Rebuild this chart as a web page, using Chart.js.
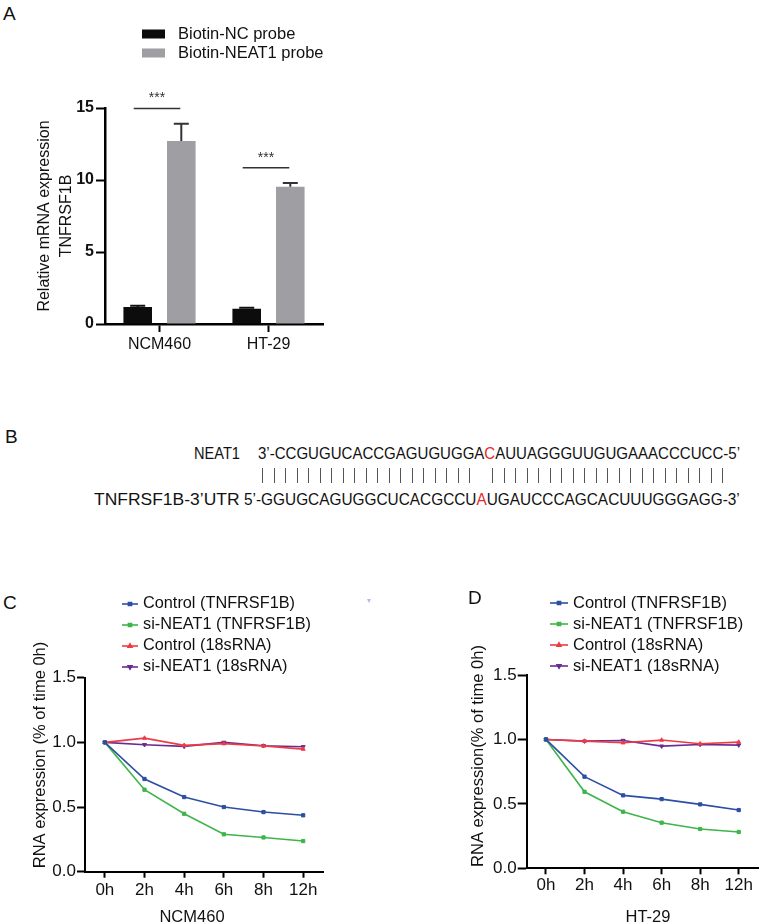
<!DOCTYPE html>
<html>
<head>
<meta charset="utf-8">
<script src="https://cdn.jsdelivr.net/npm/chart.js@4.4.1/dist/chart.umd.min.js"></script>
<style>
  html, body { margin: 0; padding: 0; background: #fff; overflow: hidden; }
  body { width: 763px; height: 923px; position: relative; font-family: "Liberation Sans", Arial, sans-serif; color: #111; }
  canvas { position: absolute; }
  .txt { position: absolute; white-space: nowrap; line-height: 1; transform: translateY(-50%); }
  .letter { font-size: 19px; }
  .seq { font-size: 16.5px; color: #111; }
  .bar { position: absolute; width: 1px; height: 15px; background: #555; }
</style>
</head>
<body>

<div class="txt letter" style="left:3px;top:13px">A</div>
<canvas id="chartA" width="360" height="380" style="left:0;top:0"></canvas>

<div class="txt letter" style="left:5px;top:436px">B</div>
<div class="txt seq" id="lblNeat" style="right:523px;top:453px">NEAT1</div>
<div class="txt seq" id="seqNeat" style="left:258px;top:453px"></div>
<div id="pairRow"></div>
<div class="txt seq" id="lblUtr" style="right:523px;top:499px">TNFRSF1B-3’UTR</div>
<div class="txt seq" id="seqUtr" style="left:244px;top:499px"></div>

<div class="txt letter" style="left:3px;top:602px">C</div>
<canvas id="chartC" width="380" height="380" style="left:0;top:560px"></canvas>
<div class="txt" style="left:367px;top:601px;font-size:8px;color:#c8b2e4">▾</div>

<div class="txt letter" style="left:468px;top:597px">D</div>
<canvas id="chartD" width="383" height="380" style="left:380px;top:560px"></canvas>

<script>
Chart.defaults.font.family = '"Liberation Sans", Arial, sans-serif';
Chart.defaults.color = '#111';

// panel A
const cellLines = ['NCM460', 'HT-29'];
const probeNames = ['Biotin-NC probe', 'Biotin-NEAT1 probe'];
const ncProbe = [1.18, 1.06];
const ncErr = [0.09, 0.07];
const neatProbe = [12.7, 9.53];
const neatErr = [1.2, 0.27];
const sigLevel = [14.96, 10.85];
const sigText = ['***', '***'];
const yTicksA = [0, 5, 10, 15];

// panel B
const neatSeq = 'CCGUGUCACCGAGUGUGGACAUUAGGGUUGUGAAACCCUCC';
const utrSeq = 'GGUGCAGUGGCUCACGCCUAUGAUCCCAGCACUUUGGGAGG';

// panels C, D
const timePoints = ['0h', '2h', '4h', '6h', '8h', '12h'];
const seriesNames = ['Control (TNFRSF1B)', 'si-NEAT1 (TNFRSF1B)', 'Control (18sRNA)', 'si-NEAT1 (18sRNA)'];
const ncmControlTnf = [1.0, 0.717, 0.577, 0.500, 0.461, 0.436];
const ncmSiTnf = [1.0, 0.634, 0.448, 0.289, 0.265, 0.237];
const ncmControl18s = [1.0, 1.033, 0.977, 0.990, 0.972, 0.948];
const ncmSi18s = [1.0, 0.982, 0.969, 1.0, 0.974, 0.966];
const htControlTnf = [1.0, 0.711, 0.566, 0.537, 0.496, 0.452];
const htSiTnf = [1.0, 0.594, 0.439, 0.354, 0.305, 0.282];
const htControl18s = [1.0, 0.987, 0.974, 0.995, 0.966, 0.979];
const htSi18s = [1.0, 0.987, 0.992, 0.948, 0.961, 0.956];
const yTicksRna = [0, 0.5, 1.0, 1.5];

const seriesColors = ['#2c4fa3', '#3db54a', '#ee3b43', '#6a2c91'];
const seriesMarkers = ['rect', 'rect', 'triangle', 'triangle'];
const seriesRotation = [0, 0, 0, 180];

// ---------- panel B text ----------
function fitWidth(el, w, origin) {
  el.style.transformOrigin = origin + ' center';
  el.style.transform = 'translateY(-50%) scaleX(' + (w / el.offsetWidth) + ')';
}
document.getElementById('seqNeat').innerHTML =
  '3’-' + neatSeq.slice(0, 19) + '<span style="color:#e8262b">' + neatSeq[19] + '</span>' + neatSeq.slice(20) + '-5’';
document.getElementById('seqUtr').innerHTML =
  '5’-' + utrSeq.slice(0, 19) + '<span style="color:#e8262b">' + utrSeq[19] + '</span>' + utrSeq.slice(20) + '-3’';
fitWidth(document.getElementById('seqNeat'), 482, 'left');
fitWidth(document.getElementById('seqUtr'), 496, 'left');
fitWidth(document.getElementById('lblNeat'), 46, 'right');
fitWidth(document.getElementById('lblUtr'), 146, 'right');

const pairsOk = ['CG', 'GC', 'AU', 'UA', 'GU', 'UG'];
const pairRow = document.getElementById('pairRow');
for (let i = 0; i < neatSeq.length; i++) {
  if (!pairsOk.includes(neatSeq[i] + utrSeq[i])) continue;
  const b = document.createElement('div');
  b.className = 'bar';
  b.style.left = (262 + i * 460 / (neatSeq.length - 1)) + 'px';
  b.style.top = '468px';
  pairRow.appendChild(b);
}

// ---------- plugins ----------
const errorBars = {
  id: 'errorBars',
  afterDatasetsDraw(chart) {
    const ctx = chart.ctx, y = chart.scales.y;
    chart.data.datasets.forEach((ds, di) => {
      const meta = chart.getDatasetMeta(di);
      meta.data.forEach((bar, i) => {
        const top = y.getPixelForValue(ds.data[i] + ds.err[i]);
        ctx.save();
        ctx.strokeStyle = ds.errColor;
        ctx.lineWidth = 2;
        ctx.beginPath();
        ctx.moveTo(bar.x, bar.y);
        ctx.lineTo(bar.x, top);
        ctx.moveTo(bar.x - 7.5, top);
        ctx.lineTo(bar.x + 7.5, top);
        ctx.stroke();
        ctx.restore();
      });
    });
  }
};

const sigMarks = {
  id: 'sigMarks',
  afterDatasetsDraw(chart) {
    const ctx = chart.ctx, y = chart.scales.y;
    const m0 = chart.getDatasetMeta(0), m1 = chart.getDatasetMeta(1);
    sigLevel.forEach((v, i) => {
      const py = y.getPixelForValue(v);
      const x0 = m0.data[i].x - 4, x1 = m1.data[i].x - 1;
      ctx.save();
      ctx.strokeStyle = '#333';
      ctx.lineWidth = 1.5;
      ctx.beginPath();
      ctx.moveTo(x0, py);
      ctx.lineTo(x1, py);
      ctx.stroke();
      ctx.fillStyle = '#333';
      ctx.font = '14px "Liberation Sans", Arial, sans-serif';
      ctx.textAlign = 'center';
      ctx.textBaseline = 'middle';
      ctx.fillText(sigText[i], (x0 + x1) / 2, py - 10);
      ctx.restore();
    });
  }
};

const boxLegend = {
  id: 'boxLegend',
  afterDraw(chart, args, o) {
    const ctx = chart.ctx;
    chart.data.datasets.forEach((ds, i) => {
      const cy = o.y + i * o.gap;
      ctx.save();
      ctx.fillStyle = ds.backgroundColor;
      ctx.fillRect(o.x, cy - 4.5, 23, 9);
      ctx.fillStyle = '#111';
      ctx.font = o.font;
      ctx.textBaseline = 'middle';
      ctx.fillText(ds.label, o.textX, cy);
      ctx.restore();
    });
  }
};

const lineLegend = {
  id: 'lineLegend',
  afterDraw(chart, args, o) {
    const ctx = chart.ctx;
    chart.data.datasets.forEach((ds, i) => {
      const cy = o.y + i * o.gap;
      ctx.save();
      ctx.strokeStyle = ds.borderColor;
      ctx.fillStyle = ds.borderColor;
      ctx.lineWidth = 1.6;
      ctx.beginPath();
      ctx.moveTo(o.x0, cy);
      ctx.lineTo(o.x1, cy);
      ctx.stroke();
      Chart.helpers.drawPoint(ctx, { pointStyle: ds.pointStyle, rotation: ds.pointRotation, radius: 2.2, borderWidth: 1 }, (o.x0 + o.x1) / 2, cy);
      ctx.fillStyle = '#111';
      ctx.font = o.font;
      ctx.textBaseline = 'middle';
      ctx.fillText(ds.label, o.textX, cy);
      ctx.restore();
    });
  }
};

const captions = {
  id: 'captions',
  afterDraw(chart, args, o) {
    const ctx = chart.ctx;
    o.items.forEach(it => {
      ctx.save();
      ctx.translate(it.x, it.y);
      if (it.rotate) ctx.rotate(-Math.PI / 2);
      ctx.fillStyle = '#111';
      ctx.font = o.font;
      ctx.textAlign = 'center';
      ctx.textBaseline = 'middle';
      ctx.fillText(it.text, 0, 0);
      ctx.restore();
    });
  }
};

// ---------- panel A ----------
new Chart(document.getElementById('chartA'), {
  type: 'bar',
  data: {
    labels: cellLines,
    datasets: [
      { label: probeNames[0], data: ncProbe, err: ncErr, errColor: '#111', backgroundColor: '#0c0c0c', categoryPercentage: 0.8, barPercentage: 0.655 },
      { label: probeNames[1], data: neatProbe, err: neatErr, errColor: '#333', backgroundColor: '#9e9ea3', categoryPercentage: 0.8, barPercentage: 0.655 }
    ]
  },
  options: {
    responsive: false,
    animation: false,
    layout: { padding: { left: 0, top: 108, right: 37, bottom: 0 } },
    plugins: {
      legend: { display: false },
      tooltip: { enabled: false },
      boxLegend: { x: 142, y: 34, gap: 19, textX: 178, font: '16.5px "Liberation Sans", Arial, sans-serif' }
    },
    scales: {
      x: {
        grid: { offset: false, drawOnChartArea: false, tickLength: 8, tickWidth: 2, tickColor: '#000' },
        border: { color: '#000', width: 2.5 },
        ticks: { font: { size: 16 }, padding: 3, color: '#111' },
        afterFit(s) { s.height = 56; }
      },
      y: {
        min: 0, max: 15,
        afterBuildTicks(s) { s.ticks = yTicksA.map(v => ({ value: v })); },
        grid: { drawOnChartArea: false, tickLength: 9, tickWidth: 2, tickColor: '#000' },
        border: { color: '#000', width: 2.5 },
        ticks: { font: { size: 16, weight: 'bold' }, padding: 2, color: '#111' },
        title: { display: true, text: ['Relative mRNA expression', 'TNFRSF1B'], font: { size: 16, lineHeight: 1.375 }, padding: { top: 34, bottom: 0 }, color: '#111' },
        afterFit(s) { s.width = 105; }
      }
    }
  },
  plugins: [errorBars, sigMarks, boxLegend]
});

// ---------- panels C, D ----------
function rnaChart(id, series, o) {
  return new Chart(document.getElementById(id), {
    type: 'line',
    data: {
      labels: timePoints,
      datasets: series.map((d, i) => ({
        label: seriesNames[i],
        data: d,
        borderColor: seriesColors[i],
        backgroundColor: seriesColors[i],
        pointStyle: seriesMarkers[i],
        pointRotation: seriesRotation[i],
        pointRadius: 2.3,
        pointBorderWidth: 1,
        borderWidth: 1.6,
        tension: 0,
        clip: false
      }))
    },
    options: {
      responsive: false,
      animation: false,
      layout: { padding: { left: 0, top: o.top, right: o.right, bottom: 0 } },
      plugins: {
        legend: { display: false },
        tooltip: { enabled: false },
        lineLegend: o.legend,
        captions: { font: '16.5px "Liberation Sans", Arial, sans-serif', items: o.captions }
      },
      scales: {
        x: {
          offset: true,
          grid: { offset: false, drawOnChartArea: false, tickLength: 6, tickWidth: 2, tickColor: '#000' },
          border: { color: '#000', width: 2 },
          ticks: { font: { size: 17 }, padding: o.xPad, color: '#111' },
          afterFit(s) { s.height = o.xh; }
        },
        y: {
          min: 0, max: 1.5,
          afterBuildTicks(s) { s.ticks = yTicksRna.map(v => ({ value: v })); },
          grid: { drawOnChartArea: false, tickLength: o.yTick, tickWidth: 2, tickColor: '#000' },
          border: { color: '#000', width: 2 },
          ticks: { font: { size: 17 }, padding: 1, color: '#111', callback: v => v.toFixed(1) },
          afterFit(s) { s.width = o.yw; }
        }
      }
    },
    plugins: [lineLegend, captions]
  });
}

rnaChart('chartC', [ncmControlTnf, ncmSiTnf, ncmControl18s, ncmSi18s], {
  top: 117.7, right: 57, xh: 68.3, yw: 85, xPad: 2, yTick: 8,
  legend: { x0: 122, x1: 138, textX: 143, y: 44, gap: 21, font: '16.3px "Liberation Sans", Arial, sans-serif' },
  captions: [
    { text: 'RNA expression (% of time 0h)', x: 40, y: 195, rotate: true },
    { text: 'NCM460', x: 192, y: 357 }
  ]
});

rnaChart('chartD', [htControlTnf, htSiTnf, htControl18s, htSi18s], {
  top: 115, right: 2, xh: 71.7, yw: 146.7, xPad: 1, yTick: 9,
  legend: { x0: 170, x1: 188, textX: 193, y: 43, gap: 21, font: '16.5px "Liberation Sans", Arial, sans-serif' },
  captions: [
    { text: 'RNA expression(% of time 0h)', x: 98, y: 196, rotate: true },
    { text: 'HT-29', x: 268, y: 357 }
  ]
});
</script>
</body>
</html>
